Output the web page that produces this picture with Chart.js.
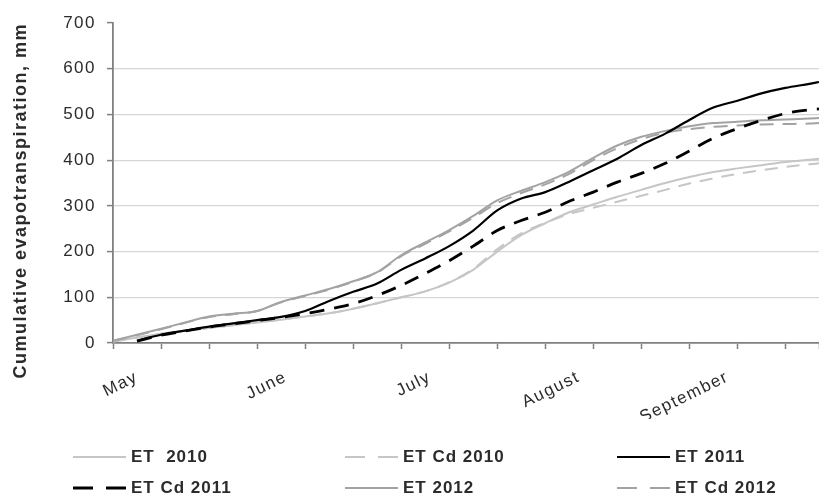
<!DOCTYPE html>
<html>
<head>
<meta charset="utf-8">
<script src="https://cdn.jsdelivr.net/npm/chart.js@4.4.1/dist/chart.umd.min.js"></script>
<style>
  html, body { margin: 0; padding: 0; background: #ffffff; overflow: hidden; }
  #c { display: block; }
</style>
</head>
<body>
<canvas id="c" width="819" height="499"></canvas>
<script>
// ---------------- DATA ----------------
// day number counted from 1 May
const days = [0, 5, 10, 15, 20, 25, 30, 35, 40, 45, 50, 55, 60, 65, 70, 75, 80, 85, 90, 95, 100, 105, 110, 115, 120, 125, 130, 135, 140, 145, 147];

const monthLabels = ['May', 'June', 'July', 'August', 'September'];
const monthStartDays = [0, 31, 61, 92, 123];

const yTickValues = [0, 100, 200, 300, 400, 500, 600, 700];

const seriesLabels = ['ET  2010', 'ET Cd 2010', 'ET 2011', 'ET Cd 2011', 'ET 2012', 'ET Cd 2012'];

const et2010   = [3, 12, 20, 27, 33, 39, 45, 51, 58, 65, 75, 87, 100, 113, 132, 160, 200, 236, 262, 286, 303, 320, 335, 350, 363, 374, 382, 389, 396, 401, 403];
const etCd2010 = [3, 12, 20, 27, 33, 39, 45, 51, 58, 65, 75, 87, 100, 113, 133, 162, 205, 240, 263, 282, 296, 309, 322, 335, 349, 360, 370, 378, 385, 391, 393];
const et2011   = [null, 5, 18, 27, 36, 43, 50, 57, 70, 92, 112, 130, 160, 185, 212, 246, 290, 316, 330, 353, 378, 403, 433, 458, 488, 515, 530, 546, 558, 567, 571];
const etCd2011 = [null, 4, 17, 26, 35, 42, 49, 56, 64, 74, 86, 104, 126, 152, 180, 212, 246, 268, 286, 310, 330, 352, 371, 393, 420, 448, 469, 487, 502, 510, 512];
const et2012   = [5, 18, 31, 45, 58, 64, 70, 90, 104, 118, 135, 155, 192, 220, 247, 278, 312, 333, 352, 375, 405, 432, 451, 464, 474, 481, 484, 487, 489, 491, 492];
const etCd2012 = [5, 17, 30, 44, 57, 63, 70, 89, 103, 117, 134, 154, 190, 217, 244, 274, 306, 328, 347, 370, 400, 426, 446, 460, 468, 473, 476, 478, 479, 480, 481];

const seriesValues = [et2010, etCd2010, et2011, etCd2011, et2012, etCd2012];

// ---------------- STYLE ----------------
const LIGHT = '#c6c6c6';
const MID = '#a3a3a3';
const BLACK = '#000000';
const seriesStyles = [
  { color: LIGHT, width: 2,   dash: [],       order: 2 },
  { color: LIGHT, width: 2,   dash: [13, 9],  order: 2 },
  { color: BLACK, width: 2.2, dash: [],       order: 0 },
  { color: BLACK, width: 2.8, dash: [15, 10], order: 0 },
  { color: MID,   width: 2,   dash: [],       order: 1 },
  { color: MID,   width: 2,   dash: [14, 9],  order: 1 }
];

const FONT = "'Liberation Sans', Arial, sans-serif";
const TEXT = '#2b2b2b';
const AXIS = '#808080';
const LABEL_SHIFT_DAYS = 5;   // month labels sit slightly after the month start (as in original)

function toPoints(values) {
  return days.map((d, i) => ({ x: d, y: values[i] }));
}

const datasets = seriesLabels.map((label, i) => ({
  label: label,
  data: toPoints(seriesValues[i]),
  borderColor: seriesStyles[i].color,
  backgroundColor: seriesStyles[i].color,
  borderWidth: seriesStyles[i].width,
  borderDash: seriesStyles[i].dash,
  order: seriesStyles[i].order,
  pointRadius: 0,
  pointHoverRadius: 0,
  fill: false,
  cubicInterpolationMode: 'monotone',
  spanGaps: false
}));

// ---------------- PLUGINS ----------------
const spacingPlugin = {
  id: 'spacing',
  beforeUpdate(chart) { chart.ctx.letterSpacing = '1.5px'; },
  beforeDraw(chart) { chart.ctx.letterSpacing = '1.5px'; }
};

const gridLegend = {
  id: 'gridLegend',
  afterDraw(chart, args, opts) {
    const ctx = chart.ctx;
    ctx.save();
    ctx.letterSpacing = opts.letterSpacing;
    ctx.font = opts.font;
    ctx.fillStyle = opts.color;
    ctx.textBaseline = 'middle';
    ctx.textAlign = 'left';
    chart.data.datasets.forEach((ds, i) => {
      const col = i % opts.colX.length;
      const row = Math.floor(i / opts.colX.length);
      const tx = opts.colX[col];
      const ty = opts.rowY[row];
      ctx.save();
      ctx.strokeStyle = ds.borderColor;
      ctx.lineWidth = ds.borderWidth;
      ctx.setLineDash(ds.borderDash && ds.borderDash.length ? opts.dash : []);
      ctx.beginPath();
      ctx.moveTo(tx - opts.gap - opts.lineLen, ty);
      ctx.lineTo(tx - opts.gap, ty);
      ctx.stroke();
      ctx.restore();
      ctx.fillText(ds.label, tx, ty);
    });
    ctx.restore();
  }
};

// ---------------- CHART ----------------
new Chart(document.getElementById('c'), {
  type: 'line',
  data: { datasets: datasets },
  plugins: [spacingPlugin, gridLegend],
  options: {
    responsive: false,
    animation: false,
    devicePixelRatio: 1,
    layout: { padding: { top: 23, right: 0, bottom: 80, left: 0 } },
    plugins: {
      legend: { display: false },
      tooltip: { enabled: false },
      gridLegend: {
        colX: [131, 403, 675],
        rowY: [457, 488],
        lineLen: 53,
        gap: 5,
        dash: [20, 13],
        font: "bold 17px " + FONT,
        color: TEXT,
        letterSpacing: '1px'
      }
    },
    scales: {
      x: {
        type: 'linear',
        position: 'bottom',
        min: 0,
        max: 147,
        weight: 0,
        ticks: { display: false, stepSize: 10 },
        grid: { drawOnChartArea: false, drawTicks: true, tickLength: 6, tickColor: AXIS, tickWidth: 1.5 },
        border: { color: AXIS, width: 1.8 }
      },
      xm: {
        type: 'linear',
        position: 'bottom',
        min: 0,
        max: 147,
        weight: 1,
        afterBuildTicks(scale) {
          scale.ticks = monthStartDays.map(d => ({ value: d + LABEL_SHIFT_DAYS }));
        },
        afterFit(scale) { scale.height = 70; },
        ticks: {
          autoSkip: false,
          minRotation: 26,
          maxRotation: 26,
          padding: 18,
          color: TEXT,
          font: { family: FONT, size: 17 },
          callback: (value, index) => monthLabels[index]
        },
        grid: { display: false, drawTicks: false },
        border: { display: false }
      },
      y: {
        type: 'linear',
        min: 0,
        max: 700,
        afterBuildTicks(scale) {
          scale.ticks = yTickValues.map(v => ({ value: v }));
        },
        afterFit(scale) { scale.width = 113; },
        ticks: {
          padding: 11,
          color: TEXT,
          font: { family: FONT, size: 17 }
        },
        grid: {
          color: (c) => (c.tick && (c.tick.value === 0 || c.tick.value === 700)) ? 'rgba(0,0,0,0)' : '#d6d6d6',
          lineWidth: 1.2,
          drawTicks: true,
          tickLength: 6,
          tickColor: AXIS,
          tickWidth: 1.5
        },
        border: { color: AXIS, width: 1.8 },
        title: {
          display: true,
          text: 'Cumulative evapotranspiration, mm',
          align: 'end',
          color: TEXT,
          font: { family: FONT, size: 18, weight: 'bold' },
          padding: { top: 10, bottom: 0 }
        }
      }
    }
  }
});
</script>
</body>
</html>
